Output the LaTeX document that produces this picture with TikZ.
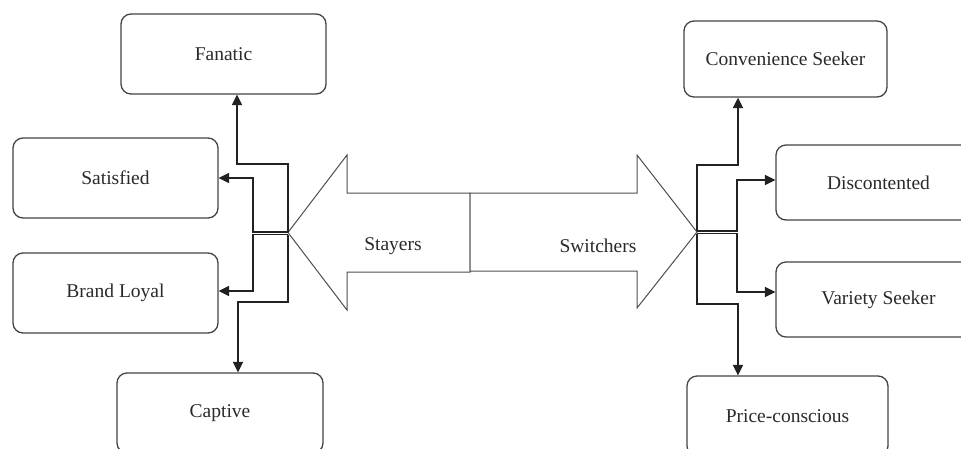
\documentclass[tikz,border=0pt]{standalone}
\usepackage{fontspec}
\setmainfont{Liberation Serif}
\usetikzlibrary{arrows.meta,calc}
\definecolor{ink}{HTML}{222222}
\definecolor{txt}{HTML}{2a2a2a}

\begin{document}
\begin{tikzpicture}[x=1pt, y=-1pt, font=\fontsize{19.5}{22}\selectfont,
  >={Triangle[length=10.5pt,width=10pt]},
  seg/.style={draw=ink!85, line width=1.3pt, rounded corners=10pt, text=txt, inner sep=0pt},
  link/.style={->, draw=ink, line width=1.7pt},
  block/.style={draw=ink!80, line width=1pt, fill=white}]
  \useasboundingbox (0,0) rectangle (961,448);
  \clip (0,0) rectangle (961,448);
  % stayers side
  \node[seg, minimum width=205pt, minimum height=80pt] (fan) at (223.5,54) {Fanatic};
  \node[seg, minimum width=205pt, minimum height=80pt] (sat) at (115.5,178) {Satisfied};
  \node[seg, minimum width=205pt, minimum height=80pt] (loyal) at (115.5,293) {Brand Loyal};
  \node[seg, minimum width=206pt, minimum height=80pt] (cap) at (220,413) {Captive};
  % switchers side
  \node[seg, minimum width=203pt, minimum height=76pt] (conv) at (785.5,59) {Convenience Seeker};
  \node[seg, minimum width=205pt, minimum height=75pt] (disc) at (878.5,182.5) {Discontented};
  \node[seg, minimum width=205pt, minimum height=75pt] (var) at (878.5,299.5) {Variety Seeker};
  \node[seg, minimum width=201pt, minimum height=80pt] (price) at (787.5,416) {Price-conscious};
  % block arrows
  \coordinate (stay) at (288,232.5);
  \coordinate (swit) at (697,232);
  \draw[block] (470,193) -- (347,193) -- (347,155) -- (stay) -- (347,310) -- (347,272) -- (470,272) -- cycle;
  \draw[block] (470,193) -- (637,193) -- (637,155) -- (swit) -- (637,308) -- (637,271) -- (470,271) -- cycle;
  \node[text=txt] (stayers) at (393,246) {Stayers};
  \node[text=txt] (switchers) at (598,246) {Switchers};
  % stayers links
  \coordinate (stayhi) at (288,232);
  \coordinate (staylo) at (288,234.5);
  \draw[link] (stayhi) -- ++(0,-68) -| ([xshift=13.5pt]fan.south);
  \draw[link] (stayhi) -- ++(-35,0) |- (sat.east);
  \draw[link] (staylo) -- ++(-35,0) |- ([yshift=2pt]loyal.east);
  \draw[link] (staylo) -- ++(0,67.5) -| ([xshift=18pt]cap.north);
  % switchers links
  \coordinate (swhi) at (697,231);
  \coordinate (swlo) at (697,233.5);
  \draw[link] (swhi) -- ++(0,-66) -| ([xshift=-47.5pt]conv.south);
  \draw[link] (swhi) -- ++(40,0) |- ([yshift=2.5pt]disc.west);
  \draw[link] (swlo) -- ++(40,0) |- ([yshift=7.5pt]var.west);
  \draw[link] (swlo) -- ++(0,70.5) -| ([xshift=-49.5pt]price.north);
\end{tikzpicture}
\end{document}
